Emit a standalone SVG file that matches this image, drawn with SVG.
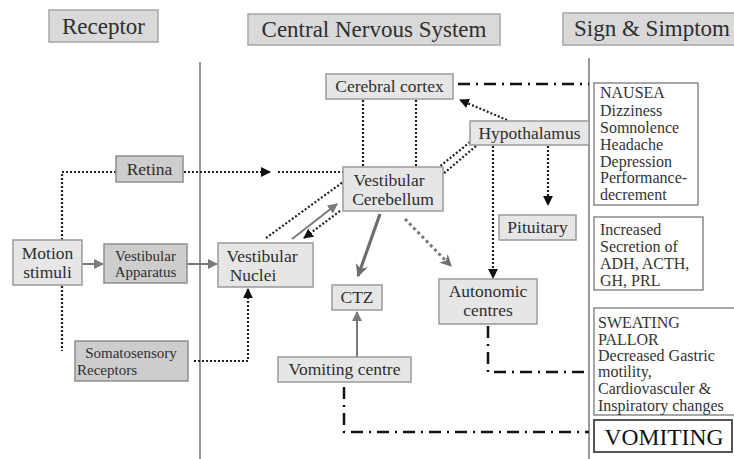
<svg xmlns="http://www.w3.org/2000/svg" width="734" height="459" viewBox="0 0 734 459">
<style>
text{font-family:"Liberation Serif","Times New Roman",serif;fill:#2e2e2e;}
.hdr rect{fill:#d9d9d9;stroke:#a6a6a6;stroke-width:1.5;}
.hdr text{font-size:23px;text-anchor:middle;}
.lt{fill:#e6e6e6;stroke:#9a9a9a;stroke-width:1.5;}
.dk{fill:#cdcdcd;stroke:#8e8e8e;stroke-width:1.5;}
.node text{font-size:17.5px;text-anchor:middle;fill:#2e2e2e;}
.sm text{font-size:15px;}
.sym rect{fill:#fff;stroke:#8a8a8a;stroke-width:1.5;}
.sym text{font-size:16px;fill:#333;}
.dot{fill:none;stroke:#222;stroke-width:2.2;stroke-dasharray:2 2;}
.gdot{fill:none;stroke:#777;stroke-width:3;stroke-dasharray:3 3;}
.dd{fill:none;stroke:#111;stroke-width:2.5;stroke-dasharray:12 6 2 6;}
.sol{fill:none;stroke:#7a7a7a;stroke-width:2;}
.solt{fill:none;stroke:#6e6e6e;stroke-width:3.2;}
.sep{stroke:#777;stroke-width:1.5;}
</style>
<defs>
<marker id="ab" viewBox="0 0 10 10" refX="9" refY="5" markerWidth="4.5" markerHeight="4.5" orient="auto" markerUnits="strokeWidth"><path d="M0,0 L10,5 L0,10 z" fill="#111"/></marker>
<marker id="ag" viewBox="0 0 10 10" refX="9" refY="5" markerWidth="5" markerHeight="5" orient="auto" markerUnits="strokeWidth"><path d="M0,0 L10,5 L0,10 z" fill="#7a7a7a"/></marker>
<marker id="agt" viewBox="0 0 10 10" refX="9" refY="5" markerWidth="4" markerHeight="4" orient="auto" markerUnits="strokeWidth"><path d="M0,0 L10,5 L0,10 L3,5 z" fill="#6e6e6e"/></marker>
</defs>
<rect width="734" height="459" fill="#fff"/>
<g id="separators">
<line class="sep" x1="200" y1="62" x2="200" y2="459"/>
<line class="sep" x1="589" y1="58" x2="589" y2="459"/>
</g>
<g id="hdr-receptor" class="hdr"><rect x="49" y="10" width="109" height="32"/><text x="103.5" y="34">Receptor</text></g>
<g id="hdr-cns" class="hdr"><rect x="248" y="14" width="252" height="31"/><text x="374" y="37">Central Nervous System</text></g>
<g id="hdr-sign" class="hdr"><rect x="563" y="13" width="180" height="32"/><text x="652" y="36">Sign &amp; Simptom</text></g>

<g id="connectors">
<polyline class="dot" points="62,240 62,172 116,172"/>
<line class="dot" x1="62" y1="286" x2="62" y2="351"/>
<line class="dot" x1="184" y1="172" x2="270" y2="172" marker-end="url(#ab)"/>
<line class="dot" x1="278" y1="172" x2="343" y2="172"/>
<line class="sol" x1="82" y1="264" x2="103" y2="264" marker-end="url(#ag)"/>
<line class="sol" x1="187" y1="264" x2="217" y2="264" marker-end="url(#ag)"/>
<polyline class="dot" points="194,361 248,361 248,289" marker-end="url(#ab)"/>
<line class="dot" x1="266" y1="238" x2="343" y2="182"/>
<line class="sol" x1="292" y1="239" x2="337" y2="204" marker-end="url(#ag)"/>
<line class="dot" x1="340" y1="211" x2="304" y2="238" marker-end="url(#ab)"/>
<line class="dot" x1="363" y1="100" x2="363" y2="167"/>
<line class="dot" x1="416" y1="100" x2="416" y2="167"/>
<line class="dot" x1="507" y1="120" x2="460" y2="100" marker-end="url(#ab)"/>
<line class="dot" x1="470" y1="142" x2="439" y2="167"/>
<line class="dot" x1="476" y1="146" x2="442" y2="175"/>
<line class="dot" x1="548" y1="146" x2="548" y2="205" marker-end="url(#ab)"/>
<line class="dot" x1="493" y1="146" x2="493" y2="278" marker-end="url(#ab)"/>
<line class="gdot" x1="405" y1="219" x2="451" y2="266" marker-end="url(#agt)"/>
<line class="solt" x1="380" y1="214" x2="358" y2="276" marker-end="url(#agt)"/>
<line class="sol" x1="357" y1="357" x2="357" y2="312" marker-end="url(#ag)"/>
<line class="dd" x1="458" y1="84" x2="589" y2="84"/>
<polyline class="dd" points="488,326 488,372 589,372"/>
<polyline class="dd" points="344,387 344,432 589,432"/>
</g>

<g id="retina" class="node"><rect class="dk" x="116" y="156" width="67" height="26"/><text x="149.5" y="175">Retina</text></g>
<g id="motion" class="node"><rect class="lt" x="13" y="240" width="69" height="45"/><text x="47.5" y="259">Motion</text><text x="47.5" y="278">stimuli</text></g>
<g id="vapp" class="node sm"><rect class="dk" x="104" y="244" width="83" height="39"/><text x="145.5" y="261">Vestibular</text><text x="145.5" y="277">Apparatus</text></g>
<g id="soma" class="node sm"><rect class="dk" x="75" y="341" width="113" height="40"/><text x="131" y="358">Somatosensory</text><text x="107" y="375">Receptors</text></g>
<g id="vnuc" class="node"><rect class="lt" x="218" y="243" width="95" height="44"/><text x="262" y="262">Vestibular</text><text x="253" y="281">Nuclei</text></g>
<g id="cortex" class="node"><rect class="lt" x="326" y="74" width="127" height="25"/><text x="389.5" y="92">Cerebral cortex</text></g>
<g id="vcer" class="node"><rect class="lt" x="343" y="167" width="100" height="44"/><text x="389" y="186">Vestibular</text><text x="393" y="205">Cerebellum</text></g>
<g id="hypo" class="node"><rect class="lt" x="470" y="121" width="119" height="24"/><text x="529.5" y="139">Hypothalamus</text></g>
<g id="pit" class="node"><rect class="lt" x="499" y="215" width="77" height="25"/><text x="537.5" y="233">Pituitary</text></g>
<g id="ctz" class="node"><rect class="lt" x="332" y="285" width="50" height="25"/><text x="357" y="303">CTZ</text></g>
<g id="auto" class="node"><rect class="lt" x="439" y="279" width="98" height="45"/><text x="488" y="297">Autonomic</text><text x="488" y="316">centres</text></g>
<g id="vomc" class="node"><rect class="lt" x="278" y="357" width="133" height="25"/><text x="344.5" y="375">Vomiting centre</text></g>

<g id="sym1" class="sym"><rect x="594" y="83" width="104" height="122"/>
<text x="600" y="98">NAUSEA</text><text x="600" y="116">Dizziness</text><text x="600" y="133">Somnolence</text><text x="600" y="150">Headache</text><text x="600" y="167">Depression</text><text x="600" y="183">Performance-</text><text x="600" y="200">decrement</text></g>
<g id="sym2" class="sym"><rect x="594" y="217" width="109" height="73"/>
<text x="600" y="235">Increased</text><text x="600" y="252">Secretion of</text><text x="600" y="269">ADH, ACTH,</text><text x="600" y="286">GH, PRL</text></g>
<g id="sym3" class="sym"><rect x="594" y="308" width="145" height="107"/>
<text x="598" y="328">SWEATING</text><text x="598" y="345">PALLOR</text><text x="598" y="361">Decreased Gastric</text><text x="598" y="377">motility,</text><text x="598" y="394">Cardiovasculer &amp;</text><text x="598" y="411">Inspiratory changes</text></g>
<g id="sym4" class="sym"><rect x="594" y="420" width="138" height="32" style="stroke:#555;stroke-width:2"/>
<text x="664" y="445" style="font-size:23.5px;text-anchor:middle;fill:#111">VOMITING</text></g>
</svg>
